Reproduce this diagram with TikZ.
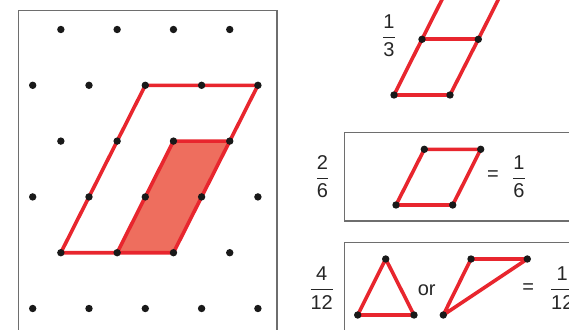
\documentclass[tikz,border=0pt]{standalone}
\usepackage{fontspec}
\setmainfont{Liberation Sans}
\usepackage{amsmath}
\usepackage{xcolor}
\usepackage{tikz}

\definecolor{linered}{RGB}{232,38,46}
\definecolor{shadered}{RGB}{238,110,94}
\definecolor{framegray}{RGB}{110,110,110}
\newcommand{\numfrac}[2]{$\displaystyle\frac{\text{#1}}{\text{#2}}$}

\begin{document}
\begin{tikzpicture}[x=1pt, y=-1pt,
        every node/.style={font=\fontsize{20}{24}\selectfont, text=black!85, inner sep=0pt},
        redge/.style={draw=linered, line width=3.6pt, line join=round, line cap=round},
        frame/.style={draw=framegray, line width=1.5pt},
        dotr/.style={black!90}]
        \useasboundingbox (0,0) rectangle (569,329);
        \clip (0,0) rectangle (569,329);

        % dot grid on the left
        \foreach \r in {0,2,4}
            \foreach \c in {1,3,5,7}
                \coordinate (g-\c-\r) at ({32.7+28.15*\c},{29.5+55.8*\r});
        \foreach \r in {1,3,5}
            \foreach \c in {0,2,4,6,8}
                \coordinate (g-\c-\r) at ({32.7+28.15*\c},{29.5+55.8*\r});
        \draw[frame] (18.7,345) -- (18.7,10.3) -- (277,10.3) -- (277,345);
        \fill[shadered] (g-3-4) -- (g-5-4) -- (g-7-2) -- (g-5-2) -- cycle;
        \draw[redge] (g-1-4) -- (g-5-4) -- (g-8-1) -- (g-4-1) -- cycle;
        \draw[redge] (g-3-4) -- (g-5-2) -- (g-7-2);
        \foreach \r in {0,2,4}
            \foreach \c in {1,3,5,7}
                \fill[dotr] (g-\c-\r) circle (3.7);
        \foreach \r in {1,3,5}
            \foreach \c in {0,2,4,6,8}
                \fill[dotr] (g-\c-\r) circle (3.7);

        % one third
        \coordinate (t-1) at (394,95);
        \coordinate (t-2) at (450,95);
        \coordinate (t-3) at (478.3,39.3);
        \coordinate (t-4) at (422,39.3);
        \coordinate (t-5) at (446.8,-10);
        \coordinate (t-6) at (503.1,-10);
        \draw[redge] (t-5) -- (t-4) -- (t-1) -- (t-2) -- (t-3) -- (t-6);
        \draw[redge] (t-4) -- (t-3);
        \foreach \p in {1,...,4}
            \fill[dotr] (t-\p) circle (3.7);
        \node (third) at (389,36) {\numfrac{1}{3}};

        % two sixths
        \draw[frame] (580,132.3) -- (344.3,132.3) -- (344.3,221) -- (580,221);
        \coordinate (m-1) at (396,205);
        \coordinate (m-2) at (452.7,205);
        \coordinate (m-3) at (480.7,149.3);
        \coordinate (m-4) at (424.3,149.3);
        \draw[redge] (m-1) -- (m-2) -- (m-3) -- (m-4) -- cycle;
        \foreach \p in {1,...,4}
            \fill[dotr] (m-\p) circle (3.7);
        \node (twosix) at (322.5,176.5) {\numfrac{2}{6}};
        \node (eqa) at (493,176) {=};
        \node (onesix) at (519,176.5) {\numfrac{1}{6}};

        % four twelfths
        \draw[frame] (580,242.3) -- (344.3,242.3) -- (344.3,345);
        \coordinate (a-1) at (357.7,315);
        \coordinate (a-2) at (414,315);
        \coordinate (a-3) at (385.7,259);
        \coordinate (b-1) at (443.3,315);
        \coordinate (b-2) at (471,259);
        \coordinate (b-3) at (527.3,259);
        \draw[redge] (a-1) -- (a-2) -- (a-3) -- cycle;
        \draw[redge] (b-1) -- (b-2) -- (b-3) -- cycle;
        \foreach \p in {1,2,3}
            \fill[dotr] (a-\p) circle (3.7) (b-\p) circle (3.7);
        \node (fourtwelve) at (321.7,288) {\numfrac{4}{12}};
        \node (or) at (426.7,290) {or};
        \node (eqb) at (528.3,288.5) {=};
        \node (onetwelve) at (562.3,288) {\numfrac{1}{12}};
    \end{tikzpicture}
\end{document}
